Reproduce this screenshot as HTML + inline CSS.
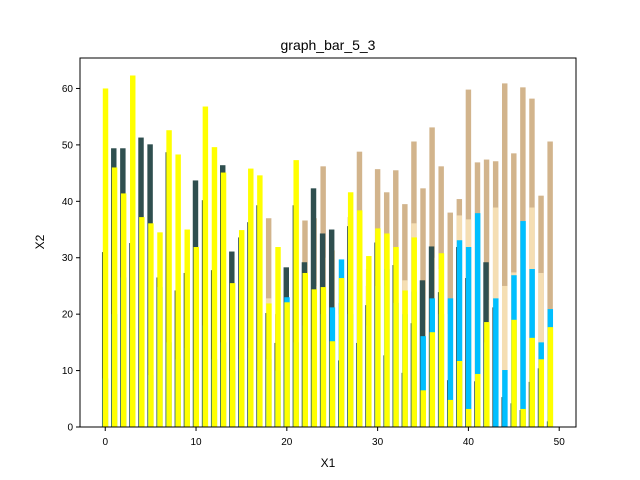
<!DOCTYPE html>
<html><head><meta charset="utf-8"><style>
body{margin:0;background:#fff;}
svg{display:block;font-family:"Liberation Sans","DejaVu Sans",sans-serif;}
</style></head><body>
<svg id="chart" width="640" height="480" viewBox="0 0 640 480">
<rect x="0" y="0" width="640" height="480" fill="#fff"/>
<text x="328" y="50" text-anchor="middle" font-size="14">graph_bar_5_3</text>
<g id="bars"></g>
<g id="axes"></g>
<text x="328" y="467" text-anchor="middle" font-size="12">X1</text>
<text x="44" y="242" text-anchor="middle" font-size="12" transform="rotate(-90 44 242)">X2</text>
</svg>
<script>
const tanVals=[23.7,10,15,12,21.9,22,18,29,23.4,20,15,25,20,18,15,20,22,18,37,20,18,25,36.6,37,46.2,20,22,37.2,48.8,25,45.7,41.6,45.5,39.5,50.6,42.3,53.1,46.2,38,40.4,59.8,46.9,47.4,47.1,60.9,48.5,60.2,58.2,41,50.6];
const wheatVals=[10,10.6,12,10.6,18,16,12,20,14,15,12,14,10,16,12,14,15,12,22.8,14,15,12,20,25,30,31.3,20,25,34.3,28,30,25,28,26,36.1,19,30,28,20,37.5,36.8,30,22.5,38.9,25,27.4,30,38.9,27.3,18];
const blueVals=[8.6,20,26.5,17.5,10,9.2,24.8,15,12,14,10,18,12,15,10,12,14,10,12,10,23,15,18,12,20,21.2,29.7,20,26,18,25,28,22,20,24,16.1,22.8,20,22.8,33.1,31.9,37.9,15,22.8,10.1,26.9,36.5,28,15,20.9];
const darkVals=[31,49.4,49.4,32.6,51.3,50.1,26.5,48.7,24.2,27.3,43.7,40.2,27.8,46.4,31.1,33.6,36.3,39.3,20.2,14.9,28.3,39.3,29.2,42.3,34.3,35,11.8,35.6,14.9,21.6,32.7,12.7,28.7,9.6,18.4,26,32,23.9,8.3,31.9,26.4,8.1,29.2,21.2,5.3,4.2,3,8,10.4,1];
const yellowVals=[60,46,41.4,62.3,37.2,36.1,34.5,52.6,48.3,35,31.9,56.8,49.6,45.1,25.5,34.9,45.8,44.6,21.9,31.9,22.1,47.3,27.3,24.4,24.8,15.2,26.4,41.6,38.4,30.3,35.2,34.3,31.9,24.2,33.6,6.5,16.8,30.8,4.8,11.7,3.2,9.4,18.6,0,0,19,3.2,15.8,12,17.7];
const xTicks=[0,10,20,30,40,50];
const yTicks=[0,10,20,30,40,50,60];

const L=80,R=576,T=58,B=427,XMIN=-2.78,XMAX=51.85,YMIN=0,YMAX=65.4;
const xs=v=>L+(v-XMIN)/(XMAX-XMIN)*(R-L);
const ys=v=>B-(v-YMIN)/(YMAX-YMIN)*(B-T);
const NS="http://www.w3.org/2000/svg";
const bars=document.getElementById('bars');
const axes=document.getElementById('axes');
const W=0.6;
const series=[
 {vals:tanVals,color:"#d2b48c",off:0,name:"tan"},
 {vals:wheatVals,color:"#f5deb3",off:0,name:"wheat"},
 {vals:darkVals,color:"#2f4f4f",off:-0.06,name:"dark"},
 {vals:blueVals,color:"#00bfff",off:0.02,name:"blue"},
 {vals:yellowVals,color:"#ffff00",off:0.03,name:"yellow"}
];
series.forEach(s=>{
 s.vals.forEach((v,i)=>{
  const r=document.createElementNS(NS,'rect');
  const x0=xs(i+s.off-W/2),x1=xs(i+s.off+W/2);
  r.setAttribute('x',x0);r.setAttribute('width',x1-x0);
  r.setAttribute('y',ys(v));r.setAttribute('height',ys(0)-ys(v));
  r.setAttribute('fill',s.color);
  
  
  bars.appendChild(r);
 });
});
function ln(x1,y1,x2,y2){const l=document.createElementNS(NS,'line');l.setAttribute('x1',x1);l.setAttribute('y1',y1);l.setAttribute('x2',x2);l.setAttribute('y2',y2);l.setAttribute('stroke','#000');l.setAttribute('stroke-width','1');return l;}
const frame=document.createElementNS(NS,'rect');
frame.setAttribute('x',L);frame.setAttribute('y',T);frame.setAttribute('width',R-L);frame.setAttribute('height',B-T);
frame.setAttribute('fill','none');frame.setAttribute('stroke','#000');frame.setAttribute('stroke-width','1');


axes.appendChild(frame);
xTicks.forEach(t=>{
 const x=xs(t);
 const l=ln(x,B,x,B+4);
 
 
 axes.appendChild(l);
 const tx=document.createElementNS(NS,'text');
 tx.setAttribute('x',x);tx.setAttribute('y',B+18);tx.setAttribute('text-anchor','middle');tx.setAttribute('font-size','10');
 tx.textContent=t;
 
 
 axes.appendChild(tx);
});
yTicks.forEach(t=>{
 const y=ys(t);
 const l=ln(L-4,y,L,y);
 
 
 axes.appendChild(l);
 const tx=document.createElementNS(NS,'text');
 tx.setAttribute('x',L-7);tx.setAttribute('y',y+3.5);tx.setAttribute('text-anchor','end');tx.setAttribute('font-size','10');
 tx.textContent=t;
 
 
 axes.appendChild(tx);
});
</script>
</body></html>
